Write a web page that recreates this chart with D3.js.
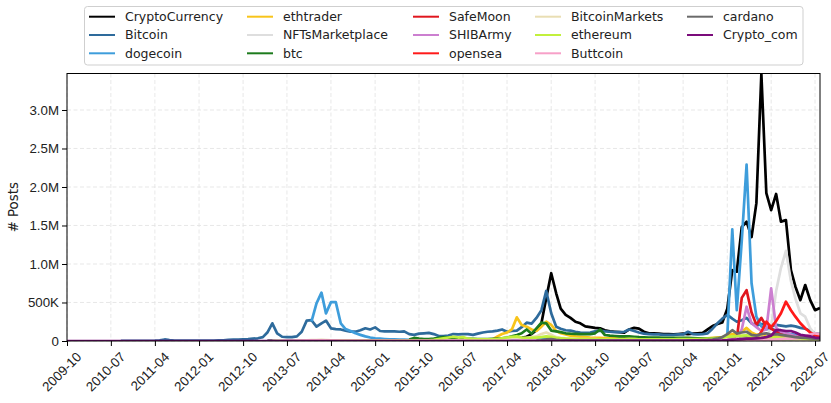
<!DOCTYPE html>
<html>
<head>
<meta charset="utf-8">
<script src="https://cdn.jsdelivr.net/npm/d3@7"></script>
<style>
  body { margin: 0; background: #fff; }
  svg { display: block; font-family: "DejaVu Sans", sans-serif; }
</style>
</head>
<body>
<div id="chart"></div>
<script>
// Monthly post counts (thousands), each series starts at its own first month
const FIRST_MONTH = '2009-10';
const LAST_MONTH = '2022-08';

const SERIES = ['CryptoCurrency', 'Bitcoin', 'dogecoin', 'ethtrader', 'NFTsMarketplace', 'btc',
  'SafeMoon', 'SHIBArmy', 'opensea', 'BitcoinMarkets', 'ethereum', 'Buttcoin', 'cardano', 'Crypto_com'];
const COLORS = ['#000000', '#2e6b9c', '#3e9ddb', '#f8c41a', '#dedede', '#1d7b1d',
  '#e0161e', '#cc7fd0', '#ff1a1a', '#e9deb3', '#c2f03c', '#f7a0c8', '#6a6a6a', '#7b0c7b'];
const STARTS = ['2013-03', '2010-09', '2013-12', '2016-02', '2021-06', '2015-08',
  '2021-03', '2021-01', '2020-06', '2013-04', '2014-03', '2013-06', '2017-10', '2009-10'];

const cryptoCurrency = [
  1, 1, 1, 1, 1, 2, 2, 3, 5, 5,
  6, 8, 8, 6, 5, 4, 4, 4, 3, 3, 3, 3,
  3, 3, 3, 3, 3, 3, 3, 3, 3, 3, 3, 3,
  4, 4, 5, 5, 5, 5, 5, 6, 6, 6, 7, 8,
  10, 12, 14, 18, 22, 30, 40, 55, 90, 140, 230, 560,
  880, 620, 420, 340, 300, 250, 230, 190, 180, 170, 165, 140,
  125, 120, 115, 110, 150, 170, 160, 120, 100, 100, 95, 90,
  90, 85, 90, 95, 90, 95, 100, 105, 150, 195, 220, 240,
  420, 920, 900, 1480, 1550, 1350, 1790, 3470, 1920, 1700, 1910, 1550,
  1570, 920, 705, 530, 727, 530, 400, 430];
const bitcoin = [
  0.5, 1, 1, 1,
  1, 2, 3, 4, 8, 20, 12, 6, 5, 4, 4, 4,
  5, 5, 6, 6, 7, 8, 15, 17, 19, 22, 25, 30,
  35, 50, 110, 230, 100, 55, 50, 50, 60, 121, 264, 270,
  186, 230, 265, 165, 155, 150, 135, 121, 121, 140, 165, 150,
  177, 130, 125, 125, 125, 120, 125, 90, 80, 95, 100, 105,
  90, 65, 65, 70, 90, 85, 90, 90, 80, 95, 110, 120,
  125, 135, 150, 120, 130, 135, 180, 238, 225, 300, 400, 650,
  360, 186, 160, 140, 134, 120, 110, 105, 110, 125, 135, 125,
  120, 115, 115, 120, 150, 130, 110, 95, 90, 85, 85, 80,
  80, 80, 85, 85, 120, 90, 85, 90, 100, 160, 230, 290,
  340, 290, 250, 270, 300, 230, 200, 220, 210, 190, 210, 200,
  190, 200, 190, 170, 160, 130, 100, 90];
const dogecoin = [
  256,
  489, 628, 359, 505, 505, 230, 155, 130, 100, 80, 60, 45,
  35, 30, 25, 20, 20, 18, 18, 16, 16, 15, 15, 15,
  14, 14, 13, 13, 12, 12, 12, 11, 11, 11, 11, 12,
  12, 13, 14, 16, 20, 22, 20, 18, 18, 20, 25, 35,
  40, 30, 25, 20, 18, 16, 15, 14, 13, 12, 12, 12,
  12, 12, 12, 13, 13, 12, 12, 11, 11, 11, 11, 11,
  11, 11, 12, 12, 12, 12, 13, 15, 14, 14, 16, 20,
  60, 1450, 400, 1300, 2290, 750, 316, 190, 150, 170, 130, 110,
  100, 90, 80, 70, 60, 50, 45, 40];
const ethtrader = [
  5, 10, 15, 20, 15, 12, 10, 8, 8, 8, 10,
  20, 60, 90, 110, 150, 307, 208, 186, 150, 130, 186, 250,
  210, 130, 100, 85, 70, 60, 55, 50, 45, 42, 40, 38,
  35, 33, 32, 33, 35, 33, 30, 28, 27, 26, 25, 25,
  25, 24, 25, 26, 28, 30, 30, 32, 35, 40, 45, 50,
  70, 90, 100, 120, 170, 110, 80, 90, 80, 70, 60, 55,
  50, 45, 40, 35, 30, 28, 25, 25];
const nftsMarketplace = [
  2, 5, 10, 30, 186, 650, 950,
  1170, 780, 550, 360, 316, 165, 90, 60];
const btc = [
  20, 40, 30, 25, 25,
  30, 40, 50, 45, 40, 35, 30, 28, 28, 25, 25, 25,
  28, 30, 35, 45, 60, 78, 100, 150, 95, 165, 238, 230,
  135, 125, 115, 100, 95, 92, 90, 88, 90, 100, 150, 78,
  70, 65, 60, 60, 60, 55, 50, 48, 45, 45, 45, 42,
  40, 40, 42, 42, 40, 38, 36, 35, 35, 36, 38, 40,
  45, 45, 40, 40, 45, 35, 30, 30, 28, 28, 26, 25,
  24, 23, 22, 21, 20, 20, 19, 18];
const safeMoon = [
  20, 560, 660, 370, 210, 300, 190, 160, 120, 100,
  90, 70, 60, 55, 50, 45, 40, 40];
const shibArmy = [
  2, 5, 20, 150, 445, 230, 180, 130, 150, 684, 170, 120,
  100, 80, 60, 50, 40, 35, 30, 28];
const opensea = [
  2, 2, 3, 3, 4, 5, 6,
  8, 10, 12, 15, 20, 25, 30, 120, 250, 180, 260, 360,
  511, 400, 316, 230, 165, 110, 75, 55];
const bitcoinMarkets = [
  3, 5, 4, 3, 3, 4, 6, 10, 12,
  12, 14, 12, 10, 9, 8, 8, 8, 7, 7, 8, 8,
  8, 8, 7, 7, 7, 7, 7, 7, 6, 7, 7, 7,
  7, 7, 7, 8, 8, 8, 9, 9, 9, 9, 10, 12,
  14, 18, 25, 30, 40, 45, 35, 40, 50, 60, 90, 110,
  80, 50, 40, 35, 30, 28, 25, 25, 24, 24, 23, 22,
  22, 21, 21, 22, 25, 24, 22, 20, 18, 18, 17, 16,
  16, 16, 18, 18, 17, 16, 16, 16, 17, 18, 20, 22,
  28, 30, 28, 30, 32, 25, 22, 22, 22, 24, 24, 22,
  20, 20, 18, 17, 16, 15, 15, 14];
const ethereum = [
  1, 2, 2, 2, 3, 3, 3, 3, 4, 4,
  4, 4, 5, 5, 6, 8, 10, 8, 7, 6, 6, 8,
  15, 25, 35, 45, 55, 45, 50, 30, 25, 20, 20, 20,
  22, 25, 35, 45, 55, 60, 45, 40, 40, 45, 50, 60,
  55, 40, 35, 30, 28, 26, 25, 24, 23, 22, 22, 22,
  22, 22, 22, 23, 25, 24, 23, 22, 22, 22, 22, 22,
  22, 23, 24, 25, 25, 25, 26, 28, 30, 32, 35, 40,
  55, 60, 65, 70, 75, 55, 45, 45, 45, 45, 45, 42,
  40, 38, 35, 33, 30, 28, 27, 26];
const buttcoin = [
  1, 1, 1, 1, 2, 4, 5,
  6, 6, 5, 4, 4, 3, 3, 3, 3, 3, 3, 3,
  3, 3, 3, 3, 3, 3, 3, 3, 3, 3, 3, 3,
  3, 3, 3, 3, 3, 3, 3, 3, 3, 3, 3, 3,
  3, 3, 3, 3, 3, 4, 4, 4, 5, 6, 8, 10,
  10, 8, 6, 5, 5, 5, 5, 5, 4, 4, 4, 4,
  4, 4, 4, 4, 5, 5, 4, 4, 4, 4, 4, 4,
  4, 4, 4, 4, 4, 4, 4, 4, 4, 5, 5, 6,
  10, 15, 15, 15, 20, 15, 12, 12, 14, 18, 20, 25,
  30, 30, 35, 40, 60, 85, 100, 90];
const cardano = [
  5, 10, 20,
  25, 15, 10, 8, 7, 6, 6, 6, 5, 5, 5, 5,
  5, 5, 5, 5, 5, 5, 5, 5, 5, 5, 5, 5,
  5, 5, 6, 6, 7, 8, 10, 12, 14, 18, 30, 50,
  90, 140, 100, 110, 120, 80, 70, 90, 100, 80, 90, 80,
  70, 60, 50, 45, 40, 35, 30, 25];
const cryptoCom = [
  0, 0, 0,
  0, 0, 0, 0, 0, 0, 0, 0, 0, 0, 0, 0,
  0, 0, 0, 0, 0, 0, 0, 0, 0, 0, 0, 0,
  0, 0, 0, 0, 0, 0, 0, 0, 0, 0, 0, 0,
  0, 0, 0, 0, 0, 0, 0, 0, 0, 0, 0, 0,
  0, 0, 0, 0, 0, 0, 0, 0, 0, 0, 0, 0,
  0, 0, 0, 0, 0, 0, 0, 0, 0, 0, 0, 0,
  0, 0, 0, 0, 0, 0, 0, 0, 0, 0, 0, 0,
  0, 0, 0, 0, 0, 0, 0, 0, 0, 0, 0, 0,
  0, 0, 0, 1, 1, 2, 2, 2, 2, 2, 2, 2,
  2, 3, 3, 3, 3, 3, 3, 3, 3, 3, 3, 3,
  3, 3, 3, 3, 3, 4, 4, 4, 4, 5, 6, 8,
  12, 18, 20, 25, 30, 30, 35, 40, 50, 70, 140, 140,
  130, 130, 110, 80, 70, 60, 45, 40];

const VALUES = [cryptoCurrency, bitcoin, dogecoin, ethtrader, nftsMarketplace, btc,
  safeMoon, shibArmy, opensea, bitcoinMarkets, ethereum, buttcoin, cardano, cryptoCom];

const X_TICKS = ['2009-10', '2010-07', '2011-04', '2012-01', '2012-10', '2013-07', '2014-04',
  '2015-01', '2015-10', '2016-07', '2017-04', '2018-01', '2018-10', '2019-07', '2020-04',
  '2021-01', '2021-10', '2022-07'];
const Y_TICKS = [0, 500000, 1000000, 1500000, 2000000, 2500000, 3000000];
const Y_TICK_LABELS = ['0', '500K', '1.0M', '1.5M', '2.0M', '2.5M', '3.0M'];
const Y_MAX = 3474000;

// ─── LAYOUT ───
const W = 831, H = 403;
const plot = { left: 67, right: 820, top: 73.5, bottom: 341 };
const parse = d3.timeParse('%Y-%m');

const svg = d3.select('#chart').append('svg').attr('width', W).attr('height', H);

const x = d3.scaleTime().domain([parse(FIRST_MONTH), parse(LAST_MONTH)]).range([plot.left, plot.right]);
const y = d3.scaleLinear().domain([0, Y_MAX]).range([plot.bottom, plot.top]);

// grid
const grid = svg.append('g').attr('stroke', '#e2e2e2').attr('stroke-width', 0.8).attr('stroke-dasharray', '4,2.5');
X_TICKS.forEach(t => {
  grid.append('line').attr('x1', x(parse(t))).attr('x2', x(parse(t)))
    .attr('y1', plot.top).attr('y2', plot.bottom);
});
Y_TICKS.forEach(v => {
  grid.append('line').attr('x1', plot.left).attr('x2', plot.right)
    .attr('y1', y(v)).attr('y2', y(v));
});

// lines
svg.append('clipPath').attr('id', 'clip').append('rect')
  .attr('x', plot.left).attr('y', plot.top)
  .attr('width', plot.right - plot.left).attr('height', plot.bottom - plot.top);

const line = d3.line().x(d => x(d.date)).y(d => y(d.value));
const linesG = svg.append('g').attr('clip-path', 'url(#clip)');
SERIES.forEach((name, s) => {
  const start = parse(STARTS[s]);
  const pts = VALUES[s].map((v, i) => ({ date: d3.timeMonth.offset(start, i), value: v * 1000 }));
  linesG.append('path')
    .attr('d', line(pts))
    .attr('fill', 'none')
    .attr('stroke', COLORS[s])
    .attr('stroke-width', 2.7)
    .attr('stroke-linejoin', 'round');
});

// axes
const xAxis = svg.append('g').attr('transform', `translate(0,${plot.bottom})`)
  .call(d3.axisBottom(x).tickValues(X_TICKS.map(parse)).tickFormat(d3.timeFormat('%Y-%m')).tickSize(5));
xAxis.select('.domain').remove();
xAxis.selectAll('line').attr('stroke', '#000');
xAxis.selectAll('text')
  .attr('font-size', 13.3).attr('fill', '#222')
  .attr('text-anchor', 'end')
  .attr('y', 0).attr('dy', '0.72em')
  .attr('transform', 'translate(8,10) rotate(-45)');

const yAxis = svg.append('g').attr('transform', `translate(${plot.left},0)`)
  .call(d3.axisLeft(y).tickValues(Y_TICKS).tickFormat((d, i) => Y_TICK_LABELS[i]).tickSize(5).tickPadding(3));
yAxis.select('.domain').remove();
yAxis.selectAll('line').attr('stroke', '#000');
yAxis.selectAll('text').attr('font-size', 13.3).attr('fill', '#222');

svg.append('text')
  .attr('transform', `translate(13,${(plot.top + plot.bottom) / 2}) rotate(-90)`)
  .attr('text-anchor', 'middle').attr('dy', '0.35em')
  .attr('font-size', 13.3).attr('fill', '#222')
  .text('# Posts');

// frame
svg.append('rect')
  .attr('x', plot.left).attr('y', plot.top)
  .attr('width', plot.right - plot.left).attr('height', plot.bottom - plot.top)
  .attr('fill', 'none').attr('stroke', '#000').attr('stroke-width', 1);

// legend
const legend = svg.append('g');
legend.append('rect')
  .attr('x', 84.5).attr('y', 6.5).attr('width', 718.5).attr('height', 58.5).attr('rx', 3)
  .attr('fill', '#fff').attr('fill-opacity', 0.8).attr('stroke', '#cfcfcf');
const COL_X = [89, 247, 413, 535, 687];
const ROW_Y = [16.7, 35, 53.3];
SERIES.forEach((name, s) => {
  const cx = COL_X[Math.floor(s / 3)];
  const cy = ROW_Y[s % 3];
  legend.append('line').attr('x1', cx).attr('x2', cx + 26).attr('y1', cy).attr('y2', cy)
    .attr('stroke', COLORS[s]).attr('stroke-width', 2);
  legend.append('text').attr('x', cx + 36).attr('y', cy).attr('dy', '0.35em')
    .attr('font-size', 12.5).attr('fill', '#222').text(name);
});
</script>
</body>
</html>
